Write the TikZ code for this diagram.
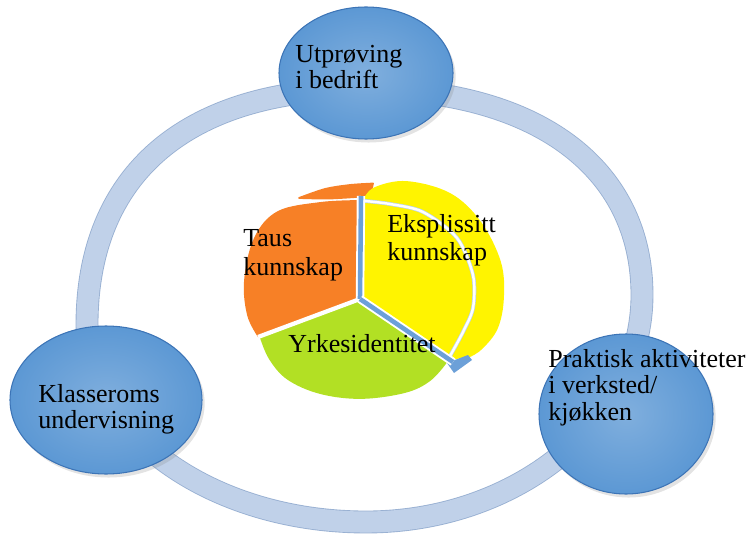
\documentclass[tikz,border=0pt]{standalone}
\usepackage{fontspec}
\setmainfont{Liberation Serif}
\usetikzlibrary{shapes.geometric,shadows}

\definecolor{ringblue}{RGB}{192,209,233}
\definecolor{ringedge}{RGB}{152,176,210}
\definecolor{discblue}{RGB}{92,152,212}
\definecolor{discedge}{RGB}{60,116,182}
\definecolor{gapblue}{RGB}{108,160,216}
\definecolor{tausorange}{RGB}{247,128,38}
\definecolor{ekspyellow}{RGB}{255,244,0}
\definecolor{yrkegreen}{RGB}{178,224,36}

\begin{document}
\begin{tikzpicture}[x=1cm,y=1cm]
\tikzset{
  ringline/.style={draw=ringedge,line width=0.5pt,double=ringblue,double distance=12pt},
  disc/.style={ellipse,draw=discedge,line width=0.6pt,inner sep=0pt,inner color=discblue!78!white,outer color=discblue,
    drop shadow={opacity=0.22,shadow xshift=1.5pt,shadow yshift=-2pt}},
  slice/.style={draw=white,line width=1pt,line join=round},
  gapline/.style={draw=white,line width=1.1pt,double=gapblue,double distance=2.6pt},
  disctext/.style={anchor=north west,inner sep=0pt,align=left,font=\fontsize{14.8}{15}\selectfont},
  pietext/.style={disctext,font=\fontsize{14.8}{16}\selectfont}
}
\useasboundingbox (0,0) rectangle (15.1,10.7);

\draw[ringline] (7.26,8.92) .. controls (10.72,8.92) and (12.84,7.35) .. (12.84,4.80)
  .. controls (12.84,2.30) and (10.36,0.26) .. (7.32,0.26)
  .. controls (4.25,0.26) and (1.74,2.03) .. (1.74,4.20)
  .. controls (1.74,7.22) and (3.73,8.92) .. cycle;

\node[disc,minimum width=3.48cm,minimum height=2.64cm] (c_top) at (7.32,9.24) {};
\node[disc,minimum width=3.84cm,minimum height=2.96cm] (c_left) at (2.12,2.70) {};
\node[disc,minimum width=3.48cm,minimum height=3.20cm] (c_right) at (12.52,2.42) {};

\node[disctext] (t_top) at (5.90,9.81) {Utprøving\\i bedrift};
\node[disctext] (t_left) at (0.76,3.02) {Klasseroms\\undervisning};
\node[disctext] (t_right) at (10.96,3.72) {Praktisk aktiviteter\\i verksted/\\kjøkken};

\fill[slice,tausorange] (7.16,4.72) -- plot[smooth,tension=0.6] coordinates {
  (7.14,6.68) (6.40,6.64) (5.56,6.46) (5.10,5.94) (4.90,5.10) (4.96,4.40) (5.18,3.96)} -- cycle;
\fill[slice,tausorange] plot[smooth] coordinates {(5.98,6.74) (6.50,6.92) (7.00,7.00) (7.46,7.03)}
  -- plot[smooth] coordinates {(7.40,6.78) (6.60,6.73) (5.98,6.74)} -- cycle;
\fill[slice,yrkegreen] (7.18,4.70) -- plot[smooth,tension=0.6] coordinates {
  (5.22,3.94) (5.40,3.52) (5.76,3.12) (6.40,2.84) (7.22,2.74) (8.10,2.86) (8.60,3.10) (8.94,3.48)} -- cycle;
\fill[slice,ekspyellow] (7.24,4.72) -- plot[smooth,tension=0.6] coordinates {
  (7.28,6.70) (7.50,6.94) (8.14,7.06) (9.00,6.82) (9.60,6.26) (10.00,5.46) (10.06,4.74)
  (9.94,4.14) (9.64,3.74) (9.40,3.58)} -- (9.00,3.52) -- cycle;
\fill[gapblue] (8.94,3.44) -- (9.36,3.60) -- (9.44,3.50) -- (9.08,3.24) -- cycle;

\draw[draw=gapblue!45,line width=2.2pt] plot[smooth] coordinates {
  (7.30,6.68) (7.80,6.62) (8.46,6.46) (9.14,5.94) (9.46,5.20) (9.46,4.54) (9.26,4.06) (9.00,3.58)};
\draw[white,line width=1.4pt] plot[smooth] coordinates {
  (7.30,6.68) (7.80,6.62) (8.46,6.46) (9.14,5.94) (9.46,5.20) (9.46,4.54) (9.26,4.06) (9.00,3.58)};
\draw[white,line width=2.4pt] (7.20,4.72) -- (5.16,3.96);
\draw[gapline] (7.20,4.72) -- (7.22,6.78);
\draw[gapline] (7.20,4.72) -- (9.06,3.46);

\node[pietext] (t_taus) at (4.86,6.11) {Taus\\kunnskap};
\node[pietext] (t_eksp) at (7.74,6.42) {Eksplissitt\\kunnskap};
\node[pietext] (t_yrke) at (5.76,4.02) {Yrkesidentitet};
\end{tikzpicture}
\end{document}
